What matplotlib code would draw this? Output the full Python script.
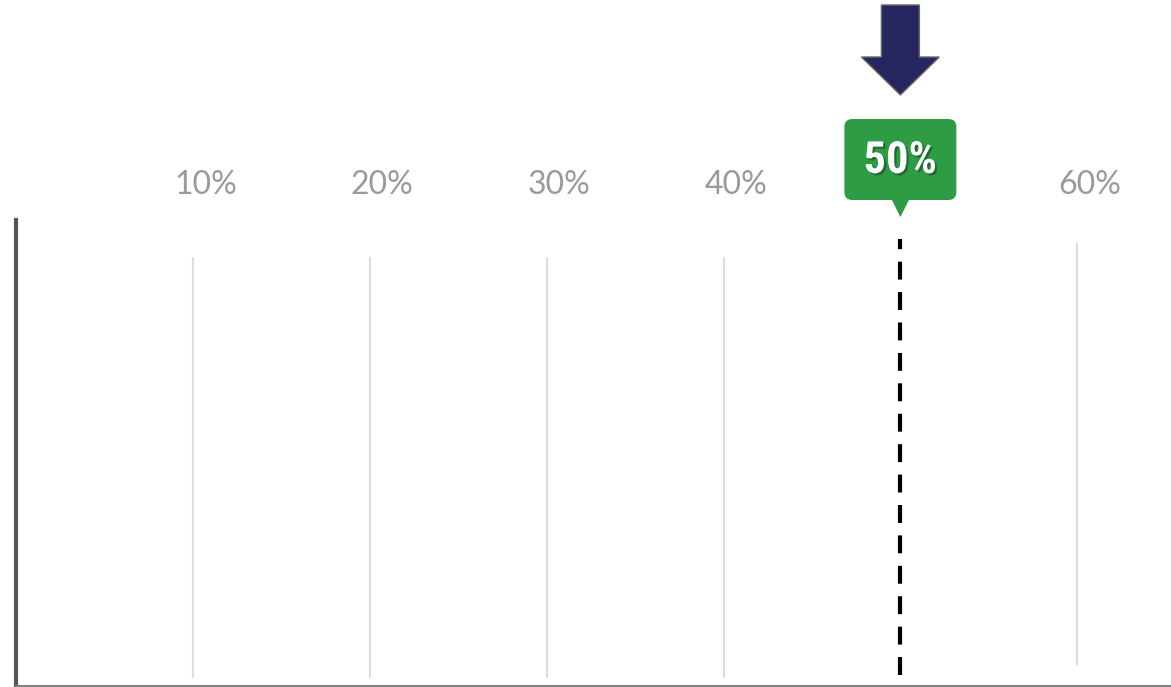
import matplotlib
matplotlib.use("Agg")
import matplotlib.pyplot as plt
from matplotlib.patches import FancyBboxPatch, Polygon
from matplotlib.transforms import blended_transform_factory
import matplotlib.patheffects as pe

# scale ticks and the highlighted value
ticks = [10, 20, 30, 40, 60]
tick_labels = ["10%", "20%", "30%", "40%", "60%"]
marker_value = 50
marker_label = "50%"

W, H = 1171, 687
fig = plt.figure(figsize=(W / 100, H / 100), dpi=100)
ax = fig.add_axes([16 / W, 1 / H, (W - 16) / W, (686 - 220) / H])
ax.set_xlim(0, 65.3)
ax.set_ylim(0, 1)
ax.set_xticks([])
ax.set_yticks([])
for s in ["top", "right"]:
    ax.spines[s].set_visible(False)
ax.spines["left"].set_color("#555555")
ax.spines["left"].set_linewidth(3)
ax.spines["bottom"].set_color("#808080")
ax.spines["bottom"].set_linewidth(2.2)

# light grid lines for each tick
for t in ticks:
    top = 0.92 if t != 60 else 0.95
    bot = 0.017 if t != 60 else 0.045
    ax.vlines(t, bot, top, color="#dddddd", lw=1.5)

# dashed marker line
ax.vlines(marker_value, 0.023, 0.96, color="black", lw=3,
          linestyles=(0, (4.3, 3)))

# tick labels above the plot
tr = blended_transform_factory(ax.transData, fig.transFigure)
for t, lab in zip(ticks, tick_labels):
    ax.text(t + 0.7, 1 - 185 / H, lab, transform=tr, ha="center",
            va="center", fontsize=23, color="#9a9a9a", family="Lato",
            clip_on=False)

# callout + arrow in pixel coords
fig.canvas.draw()
cx = ax.transData.transform((marker_value, 0))[0]

def py(y):
    return H - y

box = FancyBboxPatch((cx - 56, py(200)), 112, 81,
                     boxstyle="round,pad=0,rounding_size=8",
                     fc="#2e9b45", ec="none", transform=None)
fig.add_artist(box)
tri = Polygon([[cx - 9, py(199)], [cx + 9, py(199)], [cx, py(217)]],
              closed=True, fc="#2e9b45", ec="none", transform=None)
fig.add_artist(tri)
fig.text(cx / W, py(161) / H, marker_label, ha="center", va="center",
         color="white", fontsize=32, weight="bold",
         family=["Roboto Condensed", "Roboto", "DejaVu Sans"],
         path_effects=[pe.withSimplePatchShadow(offset=(1.5, -1.5),
                                                 shadow_rgbFace="#1d5e2a",
                                                 alpha=0.8)])

arrow = Polygon([[cx - 19, py(5)], [cx + 19, py(5)], [cx + 19, py(57)],
                 [cx + 39, py(57)], [cx, py(95)], [cx - 39, py(57)],
                 [cx - 19, py(57)]],
                closed=True, fc="#25265e", ec="#6b6b6b", lw=1,
                transform=None)
fig.add_artist(arrow)

fig.savefig("out.png", dpi=100)
